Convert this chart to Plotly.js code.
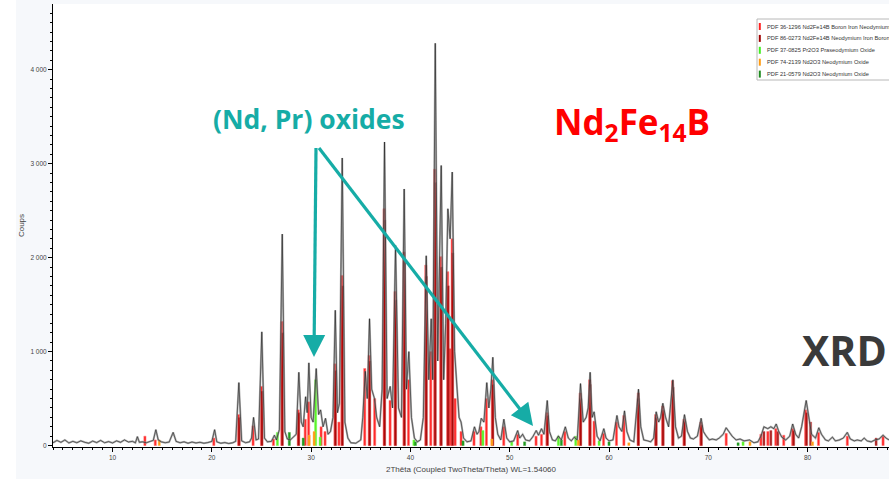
<!DOCTYPE html>
<html>
<head>
<meta charset="utf-8">
<script src="https://cdn.plot.ly/plotly-3.0.1.min.js"></script>
<style>html,body{margin:0;padding:0;background:#fff;}#chart{width:889px;height:479px;}</style>
</head>
<body>
<div id="chart"></div>
<script>
// Observed pattern (2Theta, counts)
const obsX = [4.0,4.4,4.8,5.2,5.6,6.0,6.4,6.8,7.2,7.6,8.0,8.4,8.8,9.2,9.6,10.0,10.4,10.8,11.2,11.6,12.0,12.3,12.5,12.7,13.0,13.4,13.8,14.1,14.36,14.6,14.9,15.3,15.7,16.1,16.4,16.8,17.2,17.6,18.0,18.4,18.8,19.2,19.6,20.0,20.28,20.5,20.9,21.3,21.7,22.1,22.4,22.72,23.0,23.4,23.8,24.0,24.2,24.45,24.7,25.03,25.3,25.6,26.0,26.3,26.5,26.8,27.09,27.35,27.6,27.9,28.2,28.5,28.76,29.0,29.2,29.44,29.6,29.77,30.0,30.2,30.51,30.75,30.95,31.2,31.45,31.7,31.95,32.2,32.43,32.65,32.85,33.13,33.4,33.7,34.0,34.5,35.0,35.2,35.45,35.65,35.88,36.1,36.38,36.6,36.9,37.15,37.39,37.65,37.96,38.2,38.5,38.8,39.1,39.37,39.6,39.84,40.1,40.4,40.7,41.0,41.3,41.59,41.85,42.09,42.25,42.5,42.75,43.1,43.35,43.55,43.77,44.0,44.21,44.45,44.7,44.9,45.1,45.35,45.7,46.1,46.45,46.7,46.9,47.13,47.4,47.69,47.9,48.1,48.3,48.55,48.8,49.1,49.41,49.7,50.0,50.4,50.8,51.0,51.3,51.6,52.0,52.3,52.67,52.9,53.2,53.45,53.78,54.0,54.3,54.6,54.9,55.2,55.6,55.9,56.2,56.5,56.8,57.13,57.4,57.7,57.9,58.1,58.3,58.5,58.8,59.1,59.48,59.7,60.0,60.4,60.8,61.0,61.3,61.56,61.8,62.1,62.5,62.97,63.2,63.5,63.9,64.2,64.5,64.75,65.0,65.2,65.42,65.7,66.0,66.43,66.7,67.0,67.3,67.6,67.9,68.2,68.5,68.9,69.28,69.5,69.8,70.1,70.4,70.8,71.1,71.5,71.8,72.1,72.4,72.8,73.2,73.6,74.15,74.6,75.0,75.3,75.6,75.99,76.3,76.6,76.84,77.1,77.4,77.8,78.2,78.5,78.8,79.1,79.4,79.86,80.1,80.4,80.8,81.13,81.4,81.8,82.1,82.5,82.8,83.2,83.6,84.0,84.3,84.7,85.0,85.4,85.7,86.0,86.4,86.8,87.2,87.6,87.9,88.2];
const obsY = [30,55,35,60,28,45,30,50,35,25,48,32,55,30,42,28,50,35,60,38,45,30,95,35,40,30,45,55,170,60,40,30,38,140,45,30,40,25,38,28,35,25,32,45,170,40,25,32,22,30,45,670,50,30,40,80,300,60,70,1210,80,40,45,110,60,170,2250,150,70,60,90,120,780,250,200,520,350,880,300,250,820,330,380,200,290,120,150,300,1440,350,450,3060,250,80,30,25,60,300,790,500,1350,600,500,300,200,600,3230,500,630,400,2130,400,300,2730,600,1000,300,80,40,60,300,2020,700,1350,700,4280,900,2980,700,1300,2520,2200,2910,1000,600,300,250,80,40,50,200,120,150,290,250,670,400,600,940,300,120,60,280,80,40,50,160,80,120,60,50,90,160,110,180,120,480,150,60,50,100,60,200,80,50,90,60,660,250,300,400,780,300,360,100,50,180,80,50,60,320,200,150,370,150,60,40,600,200,60,50,40,80,360,250,300,450,300,200,700,200,80,100,330,150,80,70,100,290,150,100,60,70,60,80,120,190,140,100,60,70,50,60,30,40,100,200,180,200,180,230,150,90,60,100,230,120,80,200,480,300,120,80,190,120,60,50,90,50,60,80,140,70,50,60,50,80,50,40,60,70,110,80,60];

// Reference stick patterns (PDF cards): positions and heights
const names = [
  "PDF 36-1296 Nd2Fe14B Boron Iron Neodymium",
  "PDF 86-0273 Nd2Fe14B Neodymium Iron Boron",
  "PDF 37-0825 Pr2O3 Praseodymium Oxide",
  "PDF 74-2139 Nd2O3 Neodymium Oxide",
  "PDF 21-0579 Nd2O3 Neodymium Oxide"
];
const redX = [13.26,14.3,20.2,22.7,24.15,25.0,26.2,27.05,28.7,29.4,29.75,31.0,31.4,32.4,32.8,33.1,35.4,35.85,36.4,37.35,37.95,38.45,39.35,39.8,41.55,42.05,42.45,43.05,43.75,44.0,44.2,44.5,45.1,46.4,47.1,47.65,48.25,49.4,50.8,52.65,53.2,53.75,55.55,57.1,58.05,58.5,59.45,60.75,61.5,62.95,64.7,65.4,66.4,67.55,69.25,71.8,75.3,76.0,76.8,77.6,78.5,79.8,81.1,84.0,87.6];
const redY = [100,60,80,330,210,630,70,1320,380,280,465,200,150,870,250,1810,820,960,500,2520,480,1640,2060,700,1920,1000,2940,2010,1850,1030,2200,500,150,150,200,500,700,200,120,100,120,350,150,560,700,260,130,250,320,560,330,420,690,280,250,130,120,150,180,110,180,380,140,100,100];
const dredX = [22.75,25.05,27.1,28.75,32.45,33.15,35.9,37.4,38.5,39.4,41.6,42.5,43.1,43.8,44.25,48.3,53.8,57.15,58.1,62.95,64.75,65.45,66.45,67.6,69.3,75.6,76.3,77.0,78.6,79.9,80.3,86.9];
const dredY = [300,580,1200,350,800,1700,900,2400,1550,1950,1800,2800,1900,1700,2050,650,320,500,650,500,300,380,620,260,220,150,160,150,160,350,250,80];
const lgreenX = [26.6,30.45,30.9,40.35,47.3,50.2,54.9,56.65,59.0,73.5];
const lgreenY = [140,700,90,60,160,40,100,100,50,40];
const orangeX = [14.7,29.8,30.3,48.2,56.9,62.0,74.2,80.5];
const orangeY = [60,110,150,70,60,30,40,40];
const dgreenX = [27.8,29.2,40.5,45.3,51.5,55.2,60.0,73.0];
const dgreenY = [140,80,40,50,40,60,40,30];

const yTicks = [0,1000,2000,3000,4000];
const xTicks = [10,20,30,40,50,60,70,80];

const stickSets = [
  {x: redX, y: redY, color: 'rgba(255,0,0,0.85)', halo: 'rgba(255,120,120,0.55)', sw: '#ff2020'},
  {x: dredX, y: dredY, color: 'rgba(160,0,0,0.85)', halo: 'rgba(190,80,80,0.4)', sw: '#a00000'},
  {x: lgreenX, y: lgreenY, color: '#5cf22a', halo: 'rgba(120,255,80,0.4)', sw: '#40ee20'},
  {x: orangeX, y: orangeY, color: '#ff9a10', halo: 'rgba(255,180,80,0.4)', sw: '#ff9a10'},
  {x: dgreenX, y: dgreenY, color: '#1f9a1f', halo: 'rgba(60,160,60,0.4)', sw: '#1f8a1f'}
];

const traces = stickSets.map((s, i) => ({
  type: 'bar', x: s.x, y: s.y, name: names[i], width: 0.22,
  marker: {color: s.color, line: {color: s.halo, width: 1}},
  showlegend: false, hoverinfo: 'skip'
}));
traces.push({type: 'scatter', mode: 'lines', x: obsX, y: obsY, showlegend: false,
  line: {color: 'rgba(140,140,140,0.7)', width: 2}, hoverinfo: 'skip'});
traces.push({type: 'scatter', mode: 'lines', x: obsX, y: obsY, showlegend: false,
  line: {color: 'rgba(10,10,10,0.85)', width: 0.6}, name: 'Observed'});

const PX = p => (p - 53) / 836;
const PY = p => (447 - p) / 443;
const TEAL = '#16aca6';

const shapes = [
  {type: 'rect', xref: 'paper', yref: 'paper', x0: PX(0), x1: PX(16), y0: PY(479), y1: PY(0), fillcolor: '#ffffff', line: {width: 0}, layer: 'below'},
  {type: 'rect', xref: 'paper', yref: 'paper', x0: PX(757), x1: PX(895), y0: PY(80), y1: PY(19), fillcolor: '#ffffff', line: {color: '#b8b8b8', width: 1}}
];
// arrow decoration (pixel geometry -> paper)
function arrow(x0, y0, x1, y1) {
  const dx = x1 - x0, dy = y1 - y0, L = Math.hypot(dx, dy);
  const ux = dx / L, uy = dy / L, hl = 22, hw = 11;
  const bx = x1 - hl * ux, by = y1 - hl * uy;
  shapes.push({type: 'line', xref: 'paper', yref: 'paper', x0: PX(x0), y0: PY(y0), x1: PX(bx + ux * 2), y1: PY(by + uy * 2), line: {color: TEAL, width: 3.2}});
  const p1 = [bx - hw * uy, by + hw * ux], p2 = [bx + hw * uy, by - hw * ux];
  shapes.push({type: 'path', xref: 'paper', yref: 'paper', fillcolor: TEAL, line: {width: 0},
    path: `M ${PX(x1)} ${PY(y1)} L ${PX(p1[0])} ${PY(p1[1])} L ${PX(p2[0])} ${PY(p2[1])} Z`});
}
arrow(316, 148, 314, 357);
arrow(319, 148, 533, 426);

const annotations = [];
names.forEach((n, i) => {
  const yc = 26.5 + 11.9 * i;
  shapes.push({type: 'rect', xref: 'paper', yref: 'paper', x0: PX(758.8), x1: PX(760.8), y0: PY(yc + 3.5), y1: PY(yc - 3.5), fillcolor: stickSets[i].sw, line: {width: 0}});
  annotations.push({xref: 'paper', yref: 'paper', x: PX(765), y: PY(yc), xanchor: 'left', yanchor: 'middle', text: n, showarrow: false, font: {family: 'Liberation Sans, Arial', size: 5.7, color: '#333'}});
});
annotations.push({xref: 'paper', yref: 'paper', x: PX(309), y: PY(119), xanchor: 'center', yanchor: 'middle', text: '<b>(Nd, Pr) oxides</b>', showarrow: false, font: {family: 'Open Sans, Noto Sans, sans-serif', size: 26.5, color: TEAL}});
annotations.push({xref: 'paper', yref: 'paper', x: PX(632), y: PY(124), xanchor: 'center', yanchor: 'middle', text: '<b>Nd<sub>2</sub>Fe<sub>14</sub>B</b>', showarrow: false, font: {family: 'Open Sans, Noto Sans, sans-serif', size: 35, color: '#ff0000'}});
annotations.push({xref: 'paper', yref: 'paper', x: PX(844), y: PY(350), xanchor: 'center', yanchor: 'middle', text: '<b>XRD</b>', showarrow: false, font: {family: 'Open Sans, Noto Sans, sans-serif', size: 41, color: '#3a3a3a'}});

const layout = {
  width: 889, height: 479,
  margin: {l: 53, r: 0, t: 4, b: 32},
  paper_bgcolor: '#f6f8fb', plot_bgcolor: '#ffffff',
  separators: ', ',
  barmode: 'overlay', bargap: 0,
  showlegend: false,
  font: {family: 'Liberation Sans, Arial, sans-serif', color: '#333'},
  xaxis: {range: [4, 88.2], tickvals: xTicks, ticks: 'outside', ticklen: 4, tickcolor: '#000',
    minor: {dtick: 1, tick0: 0, ticks: 'outside', ticklen: 2, tickcolor: '#000'},
    showline: true, linecolor: '#000', linewidth: 1, showgrid: false, zeroline: false,
    tickfont: {size: 6.5, color: '#444'},
    title: {text: '2Thêta (Coupled TwoTheta/Theta) WL=1.54060', font: {size: 8, color: '#444'}, standoff: 6}},
  yaxis: {range: [-15, 4698], tickvals: yTicks, tickformat: ',d', ticks: 'outside', ticklen: 4, tickcolor: '#000',
    minor: {dtick: 100, tick0: 0, ticks: 'outside', ticklen: 2, tickcolor: '#000'},
    showline: true, linecolor: '#000', linewidth: 1, showgrid: false, zeroline: false,
    tickfont: {size: 6.5, color: '#444'},
    title: {text: 'Coups', font: {size: 8, color: '#444'}, standoff: 4}},
  shapes: shapes,
  annotations: annotations
};
Plotly.newPlot('chart', traces, layout, {displayModeBar: false, staticPlot: true});
</script>
</body>
</html>
